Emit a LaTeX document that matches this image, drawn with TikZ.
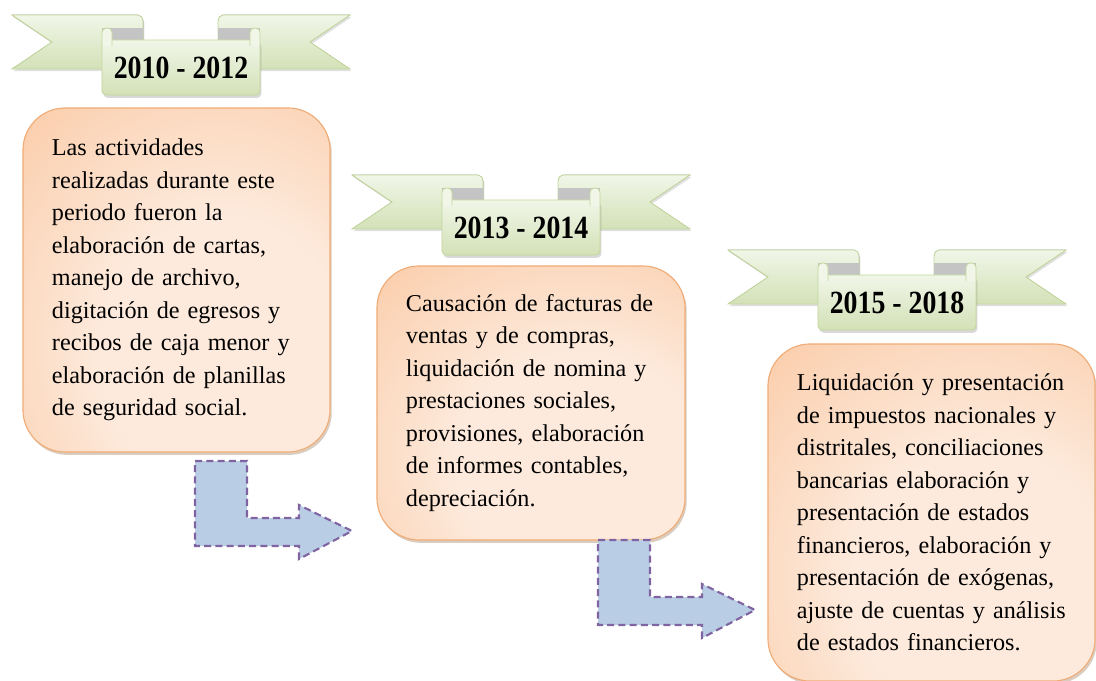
\documentclass[tikz,border=0pt]{standalone}
\usepackage{fontspec}
\usepackage{graphicx}
\setmainfont{Liberation Serif}
\usetikzlibrary{shadows}

\definecolor{ribbonlight}{HTML}{F1F6E8}
\definecolor{ribbondark}{HTML}{D3E1B7}
\definecolor{ribbonline}{HTML}{C3D69B}
\definecolor{foldgray}{HTML}{C4C4C4}
\definecolor{boxedge}{HTML}{F9BC8E}
\definecolor{boxmid}{HTML}{FDEADC}
\definecolor{boxline}{HTML}{F0AC76}
\definecolor{arrowfill}{HTML}{B9CDE5}
\definecolor{arrowline}{HTML}{8064A2}

\pgfdeclareradialshading{boxglow}{\pgfpoint{10bp}{-14bp}}{%
  color(0bp)=(boxmid); color(20bp)=(boxmid); color(58bp)=(boxedge); color(90bp)=(boxedge)}

\newcommand{\yearribbon}[4]{% name, shift x, shift y, years
  \begin{scope}[shift={(#2,#3)}]
    \filldraw[tail] (12,15) -- (138,15) to[out=0,in=90] (143,21) -- (143,69) -- (12,69) -- (52,42) -- cycle;
    \filldraw[tail] (350,15) -- (223,15) to[out=180,in=90] (218,21) -- (218,69) -- (350,69) -- (310,42) -- cycle;
    \fill[foldgray] (102,28) rectangle (143,44);
    \fill[foldgray] (218,28) rectangle (260,44);
    \node[yearpanel] (#1) at (181,67.5) {\scalebox{0.86}[1]{#4}};
    \filldraw[tab] (102,46) -- (102,28) -- (112,28) -- (112,46);
    \filldraw[tab] (250,46) -- (250,28) -- (260,28) -- (260,46);
  \end{scope}
}

\begin{document}
\begin{tikzpicture}[x=0.025cm,y=-0.025cm]

\tikzset{
  tail/.style={draw=ribbonline, line width=0.6pt, top color=ribbonlight, bottom color=ribbondark,
    drop shadow={opacity=0.25, shadow xshift=1pt, shadow yshift=-1.5pt}},
  tab/.style={draw=ribbonline, line width=0.6pt, fill=ribbonlight, rounded corners=3pt},
  yearpanel/.style={draw=ribbonline, line width=0.6pt, top color=ribbonlight, bottom color=ribbondark,
    rounded corners=3pt, minimum width=3.95cm, minimum height=1.375cm, inner sep=0pt,
    font=\fontsize{23}{26}\selectfont\bfseries,
    drop shadow={opacity=0.3, shadow xshift=1pt, shadow yshift=-2pt}},
  infobox/.style={draw=boxline, line width=0.8pt, shading=boxglow, rounded corners=30pt,
    align=left, inner xsep=0.725cm, font=\fontsize{17.2}{23.1}\selectfont,
    drop shadow={opacity=0.3, shadow xshift=1.2pt, shadow yshift=-2pt, fill=brown!70!black}},
  bentarrow/.style={fill=arrowfill, draw=arrowline, line width=1.5pt, dash pattern=on 5pt off 3pt}
}

\useasboundingbox (0,0) rectangle (1096,681);

\yearribbon{years1}{0}{0}{2010 - 2012}
\yearribbon{years2}{340}{160}{2013 - 2014}
\yearribbon{years3}{716}{235}{2015 - 2018}

\node[infobox, text width=6.225cm, minimum width=7.675cm, minimum height=8.6cm] (period1) at (176.5,280)
  {Las actividades\\ realizadas durante este\\ periodo fueron la\\ elaboración de cartas,\\
   manejo de archivo,\\ digitación de egresos y\\ recibos de caja menor y\\
   elaboración de planillas\\ de seguridad social.};
\node[infobox, text width=6.25cm, minimum width=7.7cm, minimum height=6.85cm] (period2) at (531,403)
  {Causación de facturas de\\ ventas y de compras,\\ liquidación de nomina y\\
   prestaciones sociales,\\ provisiones, elaboración\\ de informes contables,\\ depreciación.};
\node[infobox, text width=6.725cm, minimum width=8.175cm, minimum height=8.425cm] (period3) at (931.5,512.5)
  {Liquidación y presentación\\ de impuestos nacionales y\\ distritales, conciliaciones\\
   bancarias elaboración y\\ presentación de estados\\ financieros, elaboración y\\
   presentación de exógenas,\\ ajuste de cuentas y análisis\\ de estados financieros.};

\foreach \dx/\dy in {0/0, 403/79}
  \draw[bentarrow, shift={(\dx,\dy)}] (195,461) -- (247,461) -- (247,518) -- (299,518) -- (299,505)
    -- (352,531) -- (299,559) -- (299,546) -- (195,546) -- cycle;

\end{tikzpicture}
\end{document}
